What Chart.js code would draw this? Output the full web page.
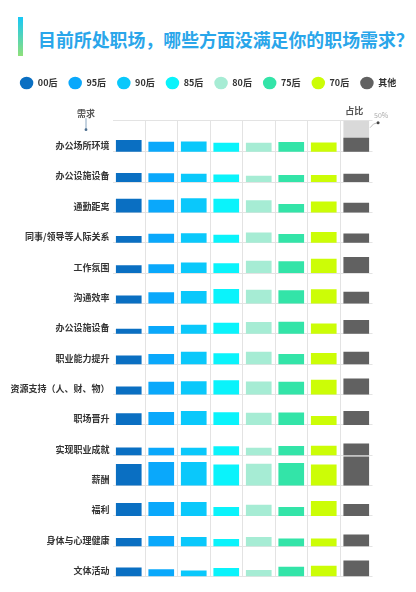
<!DOCTYPE html>
<html>
<head>
<meta charset="utf-8">
<script src="https://cdn.jsdelivr.net/npm/chart.js@4.4.0/dist/chart.umd.min.js"></script>
<style>
  html, body { margin: 0; padding: 0; background: #fff; }
  #wrap { position: relative; width: 416px; height: 592px; overflow: hidden; }
  #bar { position: absolute; left: 18px; top: 17px; width: 5px; height: 39px; background: linear-gradient(#17c8f7, #8fe07a); }
  #title { position: absolute; left: 38px; top: 27px; font: bold 17.9px "Noto Sans CJK SC"; line-height: 24px; color: #2aa6ea; white-space: nowrap; }
  canvas { position: absolute; left: 0; top: 0; }
</style>
</head>
<body>
<div id="wrap">
  <div id="bar"></div>
  <div id="title">目前所处职场，哪些方面没满足你的职场需求？</div>
  <canvas id="needChart" width="416" height="592"></canvas>
</div>
<script>
// Workplace needs by generation - one row per need, one column per generation

const generations = ['00后', '95后', '90后', '85后', '80后', '75后', '70后', '其他'];
const needs = ['办公场所环境', '办公设施设备', '通勤距离', '同事/领导等人际关系', '工作氛围', '沟通效率',
    '办公设施设备', '职业能力提升', '资源支持（人、财、物）', '职场晋升', '实现职业成就', '薪酬', '福利',
    '身体与心理健康', '文体活动'];

// share (%) per need, top row first
const gen00 = [19, 14.5, 22, 11, 12.5, 13, 8, 14, 13, 19, 12.5, 35, 21, 13.5, 15];
const gen95 = [16, 14, 20.5, 14.5, 14.5, 18, 12.5, 16.5, 20.5, 21, 12, 38, 22.5, 16.5, 12];
const gen90 = [16.5, 13.5, 23, 15.5, 17, 20, 14.5, 20, 21.5, 22.5, 12, 38, 22.5, 15, 10];
const gen85 = [14.5, 12, 22, 13, 16, 23.5, 18, 17.5, 23, 20.5, 14.5, 34, 14.5, 12, 14];
const gen80 = [14.5, 10, 19.5, 16.5, 20, 22, 19, 20, 21, 19.5, 12, 35.5, 18, 15, 11];
const gen75 = [15.5, 11.5, 13.5, 14, 19, 21.5, 19.5, 16.5, 20.5, 20, 15, 36.5, 14.5, 12.5, 16];
const gen70 = [15, 11.5, 17.5, 17.5, 23, 23, 16.5, 18, 24, 14.5, 15.5, 34, 24, 12.5, 17.5];
const genOther = [22.5, 13.5, 15.5, 15, 26, 19, 22.5, 20, 26, 22.5, 19, 47, 19.5, 19, 26];

// 占比 reference box shown above the first row
const markerValue = 50;

const series = [gen00, gen95, gen90, gen85, gen80, gen75, gen70, genOther];
const colors = ['#0a6fc2', '#0aa8fb', '#0ac8fb', '#0af3fb', '#a6ecd4', '#33e4a8', '#ccfd06', '#616161'];
const FONT = '"Noto Sans CJK SC"';

// each row gets its own band on the value axis
const ROW_STEP = 49;
const TOP = (needs.length - 1) * ROW_STEP + markerValue;

function rowBase(i) {
    return (needs.length - 1 - i) * ROW_STEP;
}

const datasets = series.map((vals, j) => ({
    label: generations[j],
    data: vals.map((v, i) => ({ x: generations[j], y: [rowBase(i), rowBase(i) + v] })),
    backgroundColor: colors[j],
    borderWidth: 0,
    grouped: false,
    barPercentage: 0.79,
    categoryPercentage: 1,
    order: 0
}));

datasets.push({
    label: 'marker',
    data: [{ x: '其他', y: [rowBase(0), rowBase(0) + markerValue] }],
    backgroundColor: '#d9d9d9',
    borderWidth: 0,
    grouped: false,
    barPercentage: 0.79,
    categoryPercentage: 1,
    order: 1
});

// header texts: 需求 / 占比 / 50%
const headerLabels = {
    id: 'headerLabels',
    afterDraw(chart) {
        const { ctx, chartArea, scales } = chart;
        const top = chartArea.top;
        ctx.save();

        ctx.font = 'bold 9px ' + FONT;
        ctx.fillStyle = '#555';
        ctx.textAlign = 'center';
        ctx.textBaseline = 'middle';
        const qx = chartArea.left - 26.5;
        ctx.fillText('需求', qx, top - 7.5);
        ctx.fillText('占比', scales.x.getPixelForValue(7) - 2, top - 10.5);

        ctx.strokeStyle = '#8aa6c0';
        ctx.lineWidth = 1;
        ctx.beginPath();
        ctx.moveTo(qx, top - 2.5);
        ctx.lineTo(qx, top + 8.5);
        ctx.stroke();
        ctx.fillStyle = '#4d6f8f';
        ctx.beginPath();
        ctx.arc(qx, top + 9, 1.4, 0, Math.PI * 2);
        ctx.fill();

        // pointer from the reference box to its 50% label
        const box = chart.getDatasetMeta(8).data[0];
        const right = box.x + box.width / 2;
        const dotX = right + 9, dotY = top + 2;
        ctx.strokeStyle = '#bbb';
        ctx.beginPath();
        ctx.moveTo(right + 1, top + 7);
        ctx.quadraticCurveTo(right + 4, top + 2, dotX, dotY);
        ctx.stroke();
        ctx.fillStyle = '#444';
        ctx.beginPath();
        ctx.arc(dotX, dotY, 1.5, 0, Math.PI * 2);
        ctx.fill();

        ctx.font = '7px ' + FONT;
        ctx.fillStyle = '#aaa';
        ctx.textAlign = 'left';
        ctx.fillText('50%', right + 5, top - 5);
        ctx.restore();
    }
};

const ctx = document.getElementById('needChart').getContext('2d');
const chart = new Chart(ctx, {
    type: 'bar',
    data: {
        labels: generations,
        datasets: datasets
    },
    options: {
        responsive: false,
        animation: false,
        layout: {
            padding: { top: 67.5, bottom: 15.3, left: 0, right: 0 }
        },
        plugins: {
            legend: {
                position: 'top',
                labels: {
                    usePointStyle: true,
                    pointStyle: 'circle',
                    pointStyleWidth: 13.5,
                    boxHeight: 9,
                    padding: 11,
                    color: '#333',
                    font: { family: FONT, size: 9, weight: 'bold' },
                    filter: item => item.text !== 'marker'
                }
            },
            tooltip: { enabled: false }
        },
        scales: {
            x: {
                position: 'top',
                ticks: { display: false },
                grid: {
                    color: c => (c.type === 'tick' && c.index > 0) ? '#e3e3e3' : 'rgba(0,0,0,0)',
                    drawTicks: false
                },
                border: { display: false },
                afterFit: s => { s.height = 23.2; }
            },
            y: {
                min: 0,
                max: TOP,
                afterBuildTicks: s => {
                    s.ticks = needs.map((n, i) => ({ value: rowBase(i) })).concat([{ value: TOP }]);
                },
                ticks: {
                    autoSkip: false,
                    callback: (v, i) => needs[i] || '',
                    labelOffset: -6,
                    padding: 3,
                    color: '#333',
                    font: { family: FONT, size: 9, weight: 'bold' }
                },
                grid: { color: '#e3e3e3', drawTicks: false },
                border: { display: false },
                afterFit: s => { s.width = 112.5; }
            },
            pad: {
                type: 'linear',
                position: 'right',
                ticks: { display: false },
                grid: { display: false },
                border: { display: false },
                afterFit: s => { s.width = 43.5; }
            }
        }
    },
    plugins: [headerLabels]
});
</script>
</body>
</html>
